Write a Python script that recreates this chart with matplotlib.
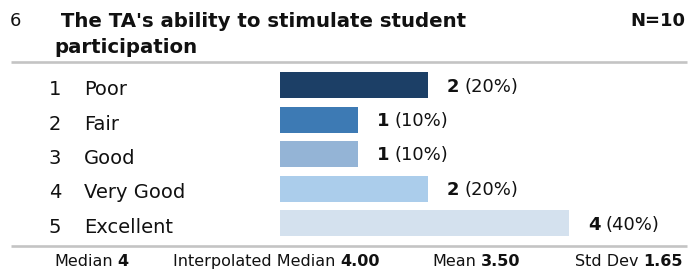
import matplotlib
matplotlib.use("Agg")
from matplotlib import pyplot as plt
import numpy as np

# data
question_no = "6"
title_lines = [" The TA's ability to stimulate student", "participation"]
n_label = "N=10"
codes = [1, 2, 3, 4, 5]
categories = ["Poor", "Fair", "Good", "Very Good", "Excellent"]
counts = [2, 1, 1, 2, 4]
percents = [20, 10, 10, 20, 40]
stat_names = ["Median", "Interpolated Median", "Mean", "Std Dev"]
stat_values = ["4", "4.00", "3.50", "1.65"]

bar_colors = ["#1c3f66", "#3d7ab4", "#94b4d6", "#abcdeb", "#d4e1ee"]
line_color = "#c4c4c4"
ink = "#111111"

W, H = 689, 269
plt.rcParams['font.family'] = ['DejaVu Sans']
fig = plt.figure(figsize=(W / 100, H / 100), dpi=100)
renderer = fig.canvas.get_renderer()

# background axes in pixel coordinates for text and rules
bg = fig.add_axes([0, 0, 1, 1])
bg.set_xlim(0, W)
bg.set_ylim(H, 0)
bg.axis("off")


def text_pair(x, y, first, second, size, first_bold):
    # two runs of text on one baseline, the second one after the first
    w1 = "bold" if first_bold else "normal"
    w2 = "normal" if first_bold else "bold"
    t = bg.text(x, y, first, fontsize=size, fontweight=w1, va="baseline", ha="left", color=ink)
    ext = t.get_window_extent(renderer)
    space = bg.text(0, 0, " ", fontsize=size)
    sw = space.get_window_extent(renderer).width
    space.remove()
    bg.text(x + ext.width + sw * 0.9, y, second, fontsize=size, fontweight=w2,
            va="baseline", ha="left", color=ink)


# bar axes
row0, step = 85, 34.5
ax_left, ax_right, ax_top, ax_bot = 280, 680, 60, 245
px_unit = 70.5
start = -0.1
ax = fig.add_axes([ax_left / W, 1 - ax_bot / H, (ax_right - ax_left) / W, (ax_bot - ax_top) / H])
ax.set_xlim(start, start + (ax_right - ax_left) / px_unit)
ax.set_ylim((ax_bot - row0) / step, (ax_top - row0) / step)
ax.axis("off")

y = np.arange(len(categories))
ax.barh(y, np.array(counts) - start, left=start, height=26 / step, color=bar_colors)

for i, (c, p) in enumerate(zip(counts, percents)):
    # bar end in pixel space of the background axes
    xe = ax_left + (c - start) * px_unit
    text_pair(xe + 19, row0 + step * i + 6.5, str(c), "(%d%%)" % p, 13, True)

for i, (code, cat) in enumerate(zip(codes, categories)):
    yb = row0 + step * i + 10
    bg.text(49, yb, str(code), fontsize=14, va="baseline", ha="left", color=ink)
    bg.text(84, yb, cat, fontsize=14, va="baseline", ha="left", color=ink)

# header
bg.text(10, 26.5, question_no, fontsize=13, va="baseline", ha="left", color=ink)
bg.text(54, 26.7, title_lines[0], fontsize=14.2, fontweight="bold", va="baseline", ha="left", color=ink)
bg.text(54, 53.3, title_lines[1], fontsize=14.2, fontweight="bold", va="baseline", ha="left", color=ink)
bg.text(685, 26.5, n_label, fontsize=13, fontweight="bold", va="baseline", ha="right", color=ink)

# rules
bg.plot([11, 687], [62, 62], color=line_color, lw=1.9, solid_capstyle="butt")
bg.plot([11, 687], [245.5, 245.5], color=line_color, lw=1.9, solid_capstyle="butt")

# stats footer
stat_x = [54, 173, 432, 575]
for x, name, val in zip(stat_x, stat_names, stat_values):
    text_pair(x, 266, name, val, 11.5, False)

plt.savefig("out.png", dpi=100)
